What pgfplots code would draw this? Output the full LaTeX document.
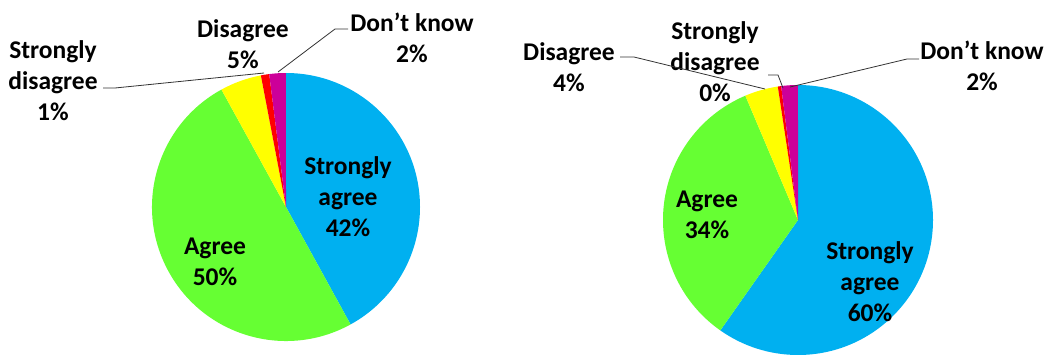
\documentclass[border=0pt]{standalone}
\usepackage{fontspec}
\setmainfont{Carlito}
\usepackage{pgfplots}
\usepackage{pgfplotstable}
\pgfplotsset{compat=1.18}

\definecolor{sablue}{HTML}{00B0F0}
\definecolor{sagreen}{HTML}{66FF33}
\definecolor{sayellow}{HTML}{FFFF00}
\definecolor{sared}{HTML}{FF0000}
\definecolor{samag}{HTML}{CC0099}

% Left pie
\pgfplotstableread[col sep=comma]{
label,value,colour
Strongly agree,42,sablue
Agree,50,sagreen
Disagree,5,sayellow
Strongly disagree,1,sared
Don't know,2,samag
}\pieA
% Right pie
\pgfplotstableread[col sep=comma]{
label,value,colour
Strongly agree,60,sablue
Agree,34,sagreen
Disagree,4,sayellow
Strongly disagree,0.4,sared
Don't know,2,samag
}\pieB

% #1 table, #2 cx, #3 cy, #4 radius (axis units = pt)
\newcommand\drawpie[4]{%
  \pgfplotstablegetrowsof{#1}%
  \pgfmathtruncatemacro\pielastrow{\pgfplotsretval-1}%
  \gdef\pietotal{0}%
  \foreach \pierow in {0,...,\pielastrow}{%
    \pgfplotstablegetelem{\pierow}{value}\of{#1}%
    \pgfmathsetmacro\pietmp{\pietotal+\pgfplotsretval}%
    \global\let\pietotal\pietmp}%
  \gdef\piestart{90}%
  \foreach \pierow in {0,...,\pielastrow}{%
    \pgfplotstablegetelem{\pierow}{value}\of{#1}\pgfmathsetmacro\pieval{\pgfplotsretval}%
    \pgfplotstablegetelem{\pierow}{colour}\of{#1}\edef\piecol{\pgfplotsretval}%
    \pgfmathsetmacro\pieend{\piestart-\pieval/\pietotal*360}%
    \edef\piecmd{\noexpand\fill[\piecol] (axis cs:#2,#3) -- ++(\piestart:#4pt)
      arc[start angle=\piestart, end angle=\pieend, radius=#4pt] -- cycle;}%
    \piecmd
    \global\let\piestart\pieend}%
}

\begin{document}
\begin{tikzpicture}
\begin{axis}[
  width=1055pt, height=354pt, scale only axis,
  xmin=0, xmax=1055, ymin=0, ymax=354,
  hide axis, clip=true,
]
\drawpie{\pieA}{286}{147}{134}
\drawpie{\pieB}{798}{134}{135}

\begin{scope}[every node/.style={align=center, inner sep=0pt,
    font=\fontsize{25.5}{31}\selectfont\bfseries}]
% left pie labels
\node at (axis cs:53,273) {Strongly\\disagree\\1\%};
\node at (axis cs:243,310) {Disagree\\5\%};
\node at (axis cs:412,316) {Don’t know\\2\%};
\node at (axis cs:348,157) {Strongly\\agree\\42\%};
\node at (axis cs:215,92) {Agree\\50\%};
% right pie labels
\node at (axis cs:569,287) {Disagree\\4\%};
\node at (axis cs:715,292) {Strongly\\disagree\\0\%};
\node at (axis cs:982,288) {Don’t know\\2\%};
\node at (axis cs:707,139) {Agree\\34\%};
\node at (axis cs:870,72) {Strongly\\agree\\60\%};
\end{scope}

\begin{scope}[black!80, line width=0.8pt]
\draw (axis cs:103,266) -- (axis cs:115,266) -- (axis cs:264,281);
\draw (axis cs:348,325) -- (axis cs:335,325) -- (axis cs:278,282);
\draw (axis cs:620,297) -- (axis cs:634,297) -- (axis cs:765,265);
\draw (axis cs:768,279) -- (axis cs:778,279) -- (axis cs:783,266);
\draw (axis cs:919,295) -- (axis cs:907,295) -- (axis cs:790,267);
\end{scope}
\end{axis}
\pgfresetboundingbox
\path (current axis.south west) rectangle (current axis.north east);
\end{tikzpicture}
\end{document}
